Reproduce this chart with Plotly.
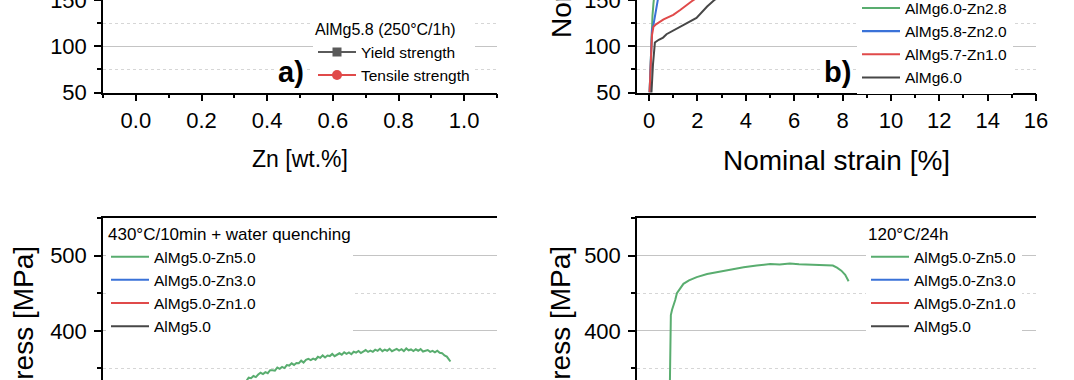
import plotly.graph_objects as go

W, H = 1074, 380
FONT = "Liberation Sans, Arial, sans-serif"

# ---------------- data ----------------
# a) AlMg5.8 (250°C/1h): points lie above the visible window (not readable)
zn_wt = [None]
yield_strength = [None]
tensile_strength = [None]

# b) nominal stress-strain curves (visible lower part)
b_names = ["AlMg6.0-Zn2.8", "AlMg5.8-Zn2.0", "AlMg5.7-Zn1.0", "AlMg6.0"]
b_strain = [
    [0.02, 0.06, 0.10, 0.14, 0.18, 0.22],
    [0.02, 0.06, 0.12, 0.18, 0.23, 0.28, 0.33, 0.38],
    [0.02, 0.06, 0.12, 0.18, 0.30, 0.60, 1.00, 1.30, 1.60, 1.75, 1.95],
    [0.06, 0.10, 0.16, 0.24, 0.40, 0.58, 0.72, 1.00, 1.40, 1.96, 2.40, 2.70, 2.90],
]
b_stress = [
    [50, 85, 121, 133, 146, 156],
    [50, 88, 118, 123, 130, 137, 145, 153],
    [50, 83, 112, 121, 124, 129, 134, 139.5, 146, 148.4, 152],
    [40, 51, 80, 104, 107, 109.4, 113, 117, 123.5, 130.6, 143, 150, 153],
]

# c) 430°C/10min + water quenching
c_names = ["AlMg5.0-Zn5.0", "AlMg5.0-Zn3.0", "AlMg5.0-Zn1.0", "AlMg5.0"]
c_strain_zn5 = [5.4, 5.5, 5.6, 5.7, 5.8, 5.9, 6.0, 6.1, 6.2, 6.3, 6.4, 6.5, 6.6, 6.7, 6.8, 6.9,
                7.0, 7.1, 7.2, 7.3, 7.4, 7.5, 7.6, 7.7, 7.8, 7.9, 8.0, 8.1, 8.2, 8.3, 8.4, 8.5,
                8.6, 8.7, 8.8, 8.9, 9.0, 9.1, 9.2, 9.3, 9.4, 9.5, 9.6, 9.7, 9.8, 9.9, 10.0,
                10.1, 10.2, 10.3, 10.4, 10.5, 10.6, 10.7, 10.8, 10.9, 11.0, 11.1, 11.2, 11.3,
                11.4, 11.5, 11.6, 11.7, 11.8, 11.9, 12.0, 12.1, 12.2, 12.3, 12.4, 12.5, 12.6,
                12.7, 12.8, 12.9, 13.0, 13.1, 13.2, 13.3, 13.4, 13.5, 13.6, 13.7, 13.8, 13.9,
                14.0, 14.05]
c_stress_zn5 = [333.3, 333.2, 337.8, 337.1, 340.0, 338.6, 342.0, 344.3, 342.6, 345.1, 343.7,
                347.7, 347.6, 347.1, 351.3, 349.6, 352.1, 350.6, 354.5, 353.9, 356.8, 354.7,
                357.4, 357.1, 360.4, 357.9, 361.4, 362.7, 361.2, 363.1, 361.7, 365.6, 364.2,
                367.4, 364.7, 367.2, 366.5, 369.3, 366.3, 368.5, 370.2, 368.3, 371.4, 369.4,
                371.3, 368.9, 372.3, 371.1, 373.3, 370.6, 373.0, 374.5, 372.0, 373.7, 372.1,
                375.0, 373.5, 376.2, 373.0, 375.1, 373.6, 376.1, 373.0, 375.0, 376.1, 373.9,
                375.7, 373.1, 376.6, 374.2, 375.3, 373.2, 375.5, 373.6, 375.7, 372.5, 373.8,
                374.5, 372.1, 373.5, 371.4, 373.6, 370.8, 370.4, 367.3, 365.8, 361.4, 359.3]

# d) 120°C/24h
d_names = ["AlMg5.0-Zn5.0", "AlMg5.0-Zn3.0", "AlMg5.0-Zn1.0", "AlMg5.0"]
d_strain_zn5 = [0.86, 0.88, 0.90, 0.95, 1.01, 1.08, 1.15, 1.28, 1.42, 1.65, 1.97, 2.40, 2.93,
                3.40, 3.91, 4.45, 5.01, 5.40, 5.82, 6.20, 6.65, 7.00, 7.35, 7.60, 7.77, 7.95,
                8.11, 8.25]
d_stress_zn5 = [330, 400, 421, 428, 433, 441, 450, 456, 462.5, 467, 471.5, 475.5, 479, 482,
                484.5, 487, 488.7, 488.2, 489.4, 488.6, 488.3, 488.0, 487.5, 486.8, 484.0,
                480.0, 474.5, 466.0]

# colours
C_GREEN = "#59ad6f"
C_BLUE = "#3a72d8"
C_RED = "#e04a4a"
C_GRAY = "#474747"
series_colors = [C_GREEN, C_BLUE, C_RED, C_GRAY]

fig = go.Figure()

# a)
fig.add_trace(go.Scatter(x=zn_wt, y=yield_strength, name="Yield strength", mode="lines+markers",
                         line=dict(color="#5a5a5a", width=2),
                         marker=dict(symbol="square", size=9, color="#5a5a5a"),
                         xaxis="x", yaxis="y", legend="legend"))
fig.add_trace(go.Scatter(x=zn_wt, y=tensile_strength, name="Tensile strength", mode="lines+markers",
                         line=dict(color=C_RED, width=2),
                         marker=dict(symbol="circle", size=10, color=C_RED),
                         xaxis="x", yaxis="y", legend="legend"))

# b)
for name, xs, ys, col in zip(b_names, b_strain, b_stress, series_colors):
    fig.add_trace(go.Scatter(x=xs, y=ys, name=name, mode="lines", line=dict(color=col, width=2),
                             xaxis="x2", yaxis="y2", legend="legend2"))

# c)  (only the Zn5.0 curve reaches the visible window)
c_x = [c_strain_zn5, [None], [None], [None]]
c_y = [c_stress_zn5, [None], [None], [None]]
for name, xs, ys, col in zip(c_names, c_x, c_y, series_colors):
    fig.add_trace(go.Scatter(x=xs, y=ys, name=name, mode="lines", line=dict(color=col, width=2),
                             xaxis="x3", yaxis="y3", legend="legend3"))

# d)
d_x = [d_strain_zn5, [None], [None], [None]]
d_y = [d_stress_zn5, [None], [None], [None]]
for name, xs, ys, col in zip(d_names, d_x, d_y, series_colors):
    fig.add_trace(go.Scatter(x=xs, y=ys, name=name, mode="lines", line=dict(color=col, width=2),
                             xaxis="x4", yaxis="y4", legend="legend4"))


def px_x(p):
    return p / W


def px_y(p):
    return 1 - p / H


XA = [px_x(103), px_x(497)]
XB = [px_x(637), px_x(1036)]
YTOP = [px_y(92.5), 1.0]
YBOT = [0.0, px_y(218)]

grid = dict(showgrid=True, gridcolor="#c4c4c4", gridwidth=1)
minor_grid = dict(showgrid=True, gridcolor="#d6d6d6", griddash="dot", gridwidth=1)
tickfont = dict(family=FONT, size=22, color="black")


def xaxis(domain, rng, dtick, mdtick, side="bottom", title=None, tsize=22, labels=True,
          ticks="outside", fmt=None):
    d = dict(domain=domain, range=rng, dtick=dtick, tick0=0, side=side,
             showline=True, linecolor="black", linewidth=1.5,
             ticks=ticks, ticklen=7, tickwidth=1.5, tickcolor="black",
             showticklabels=labels, tickfont=tickfont, showgrid=False, zeroline=False,
             minor=dict(dtick=mdtick, tick0=0, ticks=ticks, ticklen=4, tickwidth=1.5,
                        tickcolor="black", showgrid=False))
    if fmt:
        d["tickformat"] = fmt
    if title:
        d["title"] = dict(text=title, font=dict(family=FONT, size=tsize, color="black"), standoff=19)
    return d


def yaxis_left(domain, rng, dtick, mdtick, anchor):
    return dict(domain=domain, range=rng, dtick=dtick, tick0=0, anchor=anchor,
                showline=True, linecolor="black", linewidth=1.5,
                ticks="outside", ticklen=7, tickwidth=1.5, tickcolor="black",
                tickfont=tickfont, ticklabelstandoff=3, ticklabeloverflow="allow",
                zeroline=False, **grid,
                minor=dict(dtick=mdtick, tick0=0, ticks="outside", ticklen=4, tickwidth=1.5,
                           tickcolor="black", **minor_grid))


def yaxis_right(rng, dtick, mdtick, anchor, over):
    return dict(range=rng, dtick=dtick, tick0=0, anchor=anchor, overlaying=over, side="right",
                showline=True, linecolor="black", linewidth=1.5,
                ticks="inside", ticklen=7, tickwidth=1.5, tickcolor="black",
                showticklabels=False, showgrid=False, zeroline=False,
                minor=dict(dtick=mdtick, tick0=0, ticks="inside", ticklen=7, tickwidth=1.5,
                           tickcolor="black", showgrid=False))


TOP_RANGE = [50, 150]
BOT_RANGE = [334.7, 550]

fig.update_layout(
    width=W, height=H,
    margin=dict(l=0, r=0, t=0, b=0, autoexpand=False),
    paper_bgcolor="white", plot_bgcolor="white",
    font=dict(family=FONT, color="black"),
    xaxis=xaxis(XA, [-0.1, 1.1], 0.2, 0.1, title="Zn [wt.%]", tsize=23, fmt=".1f"),
    yaxis=yaxis_left(YTOP, TOP_RANGE, 50, 25, "x"),
    xaxis2=xaxis(XB, [-0.5, 16], 2, 1, title="Nominal strain [%]", tsize=28),
    yaxis2=yaxis_left(YTOP, TOP_RANGE, 50, 25, "x2"),
    xaxis3=xaxis(XA, [-0.5, 16], 2, 1, side="top", labels=False, ticks=""),
    yaxis3=yaxis_left(YBOT, BOT_RANGE, 100, 50, "x3"),
    xaxis4=xaxis(XB, [-0.5, 16], 2, 1, side="top", labels=False, ticks=""),
    yaxis4=yaxis_left(YBOT, BOT_RANGE, 100, 50, "x4"),
    yaxis5=yaxis_right(TOP_RANGE, 50, 25, "x", "y"),
    yaxis6=yaxis_right(TOP_RANGE, 50, 25, "x2", "y2"),
    yaxis7=yaxis_right(BOT_RANGE, 100, 50, "x3", "y3"),
    yaxis8=yaxis_right(BOT_RANGE, 100, 50, "x4", "y4"),
)
fig.update_layout(xaxis2_anchor="y2", xaxis3_anchor="y3", xaxis4_anchor="y4", xaxis_anchor="y")

leg_common = dict(xanchor="left", yanchor="top", bgcolor="white", borderwidth=0,
                  itemwidth=38, tracegroupgap=0, font=dict(family=FONT, size=15.5, color="black"))
fig.update_layout(
    legend=dict(x=px_x(313), y=px_y(14.5), title=dict(text="AlMg5.8 (250°C/1h)",
                font=dict(family=FONT, size=16)), **leg_common),
    legend2=dict(x=px_x(857), y=px_y(-8.6), **leg_common),
    legend3=dict(x=px_x(106), y=px_y(218), title=dict(text="430°C/10min + water quenching",
                 font=dict(family=FONT, size=17)), **leg_common),
    legend4=dict(x=px_x(866), y=px_y(218), title=dict(text="120°C/24h",
                 font=dict(family=FONT, size=17)), **leg_common),
)

ann = []
ann.append(dict(text="<b>a)</b>", x=px_x(306), y=px_y(72), xref="paper", yref="paper",
                xanchor="right", yanchor="middle", showarrow=False, bgcolor="white",
                font=dict(family=FONT, size=29, color="black")))
ann.append(dict(text="<b>b)</b>", x=px_x(853), y=px_y(72), xref="paper", yref="paper",
                xanchor="right", yanchor="middle", showarrow=False, bgcolor="white",
                font=dict(family=FONT, size=29, color="black")))
for cx, cy in [(561.5, -94.5), (23, 379), (560, 379)]:
    ann.append(dict(text="Nominal stress [MPa]", x=px_x(cx), y=px_y(cy), xref="paper", yref="paper",
                    xanchor="center", yanchor="middle", textangle=-90, showarrow=False,
                    font=dict(family=FONT, size=28, color="black")))
fig.update_layout(annotations=ann)

fig.write_html("out.html", config={"displayModeBar": False},
               post_script="document.body.style.margin='0px';")
